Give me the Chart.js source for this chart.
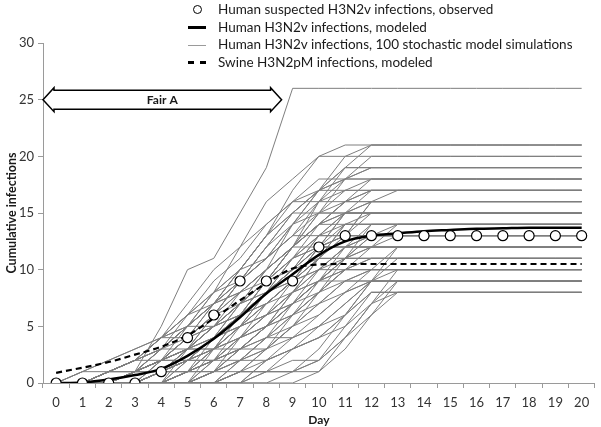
<!DOCTYPE html>
<html>
<head>
<meta charset="utf-8">
<script src="https://cdn.jsdelivr.net/npm/chart.js@4.4.1/dist/chart.umd.min.js"></script>
<style>
  html, body { margin: 0; padding: 0; background: #fff; }
  #wrap { position: relative; width: 601px; height: 427px; }
  #c { position: absolute; left: 0; top: 0; }
  #legend { position: absolute; left: 186px; top: 0; font-family: Lato, "Liberation Sans", sans-serif; font-size: 13.5px; color: #1a1a1a; }
  .row { position: relative; height: 17.5px; line-height: 17.5px; padding-left: 32px; white-space: nowrap; }
  .mk { position: absolute; left: 2px; top: 50%; width: 18px; }
  .mk.circle { left: 7px; width: 7px; height: 7px; margin-top: -5px; border: 1.5px solid #000; border-radius: 50%; background: #fff; }
  .mk.thick { height: 3px; margin-top: -1px; background: #000; }
  .mk.thin { height: 1px; margin-top: 0px; background: #9a9a9a; }
  .mk.dash { height: 0; margin-top: -1px; border-top: 3px dashed #000; }
</style>
</head>
<body>
<div id="wrap">
  <canvas id="c" width="601" height="427"></canvas>
  <div id="legend">
    <div class="row" style="margin-top:1px"><span class="mk circle"></span>Human suspected H3N2v infections, observed</div>
    <div class="row"><span class="mk thick"></span>Human H3N2v infections, modeled</div>
    <div class="row"><span class="mk thin"></span>Human H3N2v infections, 100 stochastic model simulations</div>
    <div class="row"><span class="mk dash"></span>Swine H3N2pM infections, modeled</div>
  </div>
</div>
<script>
const days = ['0','1','2','3','4','5','6','7','8','9','10','11','12','13','14','15','16','17','18','19','20'];
const yTicks = [0, 5, 10, 15, 20, 25, 30];

const observed = [0,0,0,0,1,4,6,9,9,9,12,13,13,13,13,13,13,13,13,13,13];
const humanModeled = [0,0.05,0.3,0.7,1.25,2.4,3.9,5.8,7.9,9.6,11.3,12.5,13.0,13.2,13.4,13.5,13.6,13.65,13.7,13.7,13.7];
const swineModeled = [0.9,1.35,1.85,2.5,3.2,4.2,5.7,7.3,8.8,10.1,10.45,10.5,10.5,10.5,10.5,10.5,10.5,10.5,10.5,10.5,10.5];

const sim01 = [0,0,0,1,5,10,11,15,19,26,26,26,26,26,26,26,26,26,26,26,26];
const sim02 = [0,0,0,1,2,4,7,10,13,17,20,21,21,21,21,21,21,21,21,21,21];
const sim03 = [0,0,1,1,3,5,7,9,12,15,17,19,21,21,21,21,21,21,21,21,21];
const sim04 = [0,0,1,2,4,6,8,12,16,18,20,20,20,20,20,20,20,20,20,20,20];
const sim05 = [0,0,0,1,2,4,6,9,11,14,17,18,19,19,19,19,19,19,19,19,19];
const sim06 = [0,0,0,0,1,3,5,7,10,12,15,17,18,18,18,18,18,18,18,18,18];
const sim07 = [0,0,1,2,3,5,8,10,13,15,17,18,18,18,18,18,18,18,18,18,18];
const sim08 = [0,0,0,0,1,2,4,6,8,10,13,15,16,17,17,17,17,17,17,17,17];
const sim09 = [0,1,2,3,4,6,9,11,14,16,17,17,17,17,17,17,17,17,17,17,17];
const sim10 = [0,0,0,1,1,3,5,8,10,12,14,15,16,16,16,16,16,16,16,16,16];
const sim11 = [0,0,1,2,4,7,10,12,14,16,16,16,16,16,16,16,16,16,16,16,16];
const sim12 = [0,0,0,1,2,3,6,8,10,12,14,15,15,15,15,15,15,15,15,15,15];
const sim13 = [0,0,0,0,2,4,6,9,11,13,15,15,15,15,15,15,15,15,15,15,15];
const sim14 = [0,0,0,0,0,1,3,5,7,9,11,13,15,15,15,15,15,15,15,15,15];
const sim15 = [0,0,0,0,0,0,1,3,5,7,9,11,12,14,14,14,14,14,14,14,14];
const sim16 = [0,0,1,2,3,5,7,8,10,12,14,14,14,14,14,14,14,14,14,14,14];
const sim17 = [0,0,0,1,2,4,5,7,9,11,12,14,14,14,14,14,14,14,14,14,14];
const sim18 = [0,0,0,1,3,4,6,7,9,11,13,13,13,13,13,13,13,13,13,13,13];
const sim19 = [0,0,0,0,1,2,4,6,8,10,12,13,13,13,13,13,13,13,13,13,13];
const sim20 = [0,0,0,0,0,0,2,4,6,7,9,11,13,13,13,13,13,13,13,13,13];
const sim21 = [0,0,1,2,4,5,7,8,10,12,12,12,12,12,12,12,12,12,12,12,12];
const sim22 = [0,0,0,0,1,3,4,5,7,9,10,12,12,12,12,12,12,12,12,12,12];
const sim23 = [0,0,0,0,0,0,0,1,3,5,7,9,10,12,12,12,12,12,12,12,12];
const sim24 = [0,0,0,1,2,3,5,6,8,9,11,11,11,11,11,11,11,11,11,11,11];
const sim25 = [0,0,0,0,0,1,2,4,5,7,8,10,11,11,11,11,11,11,11,11,11];
const sim26 = [0,0,0,0,0,0,0,0,2,4,5,7,9,11,11,11,11,11,11,11,11];
const sim27 = [0,0,1,2,2,3,4,6,7,9,10,10,10,10,10,10,10,10,10,10,10];
const sim28 = [0,0,0,0,0,0,1,2,4,5,7,8,10,10,10,10,10,10,10,10,10];
const sim29 = [0,0,0,0,0,0,0,0,1,2,2,4,7,10,10,10,10,10,10,10,10];
const sim30 = [0,0,0,0,0,0,0,0,1,1,2,4,7,9,9,9,9,9,9,9,9];
const sim31 = [0,0,0,0,1,2,3,4,5,6,8,9,9,9,9,9,9,9,9,9,9];
const sim32 = [0,0,0,0,0,0,0,1,1,1,1,4,6,8,8,8,8,8,8,8,8];
const sim33 = [0,0,0,0,0,1,2,3,4,4,5,6,8,8,8,8,8,8,8,8,8];
const sim34 = [0,0,0,1,3,5,7,10,13,15,17,19,19,19,19,19,19,19,19,19,19];
const sim35 = [0,0,0,0,1,2,4,7,9,12,15,18,20,20,20,20,20,20,20,20,20];
const sim36 = [0,0,1,2,4,6,8,10,11,13,13,13,13,13,13,13,13,13,13,13,13];
const sim37 = [0,0,0,0,1,3,4,6,9,11,14,16,16,16,16,16,16,16,16,16,16];
const sim38 = [0,1,1,2,3,5,7,9,12,15,15,15,15,15,15,15,15,15,15,15,15];
const sim39 = [0,0,0,1,2,3,5,7,9,12,14,16,17,17,17,17,17,17,17,17,17];
const sim40 = [0,0,0,1,2,4,7,10,13,16,18,18,18,18,18,18,18,18,18,18,18];
const sim41 = [0,0,0,0,0,2,3,5,7,9,12,12,12,12,12,12,12,12,12,12,12];
const sim42 = [0,0,0,0,0,1,2,4,6,8,10,12,14,14,14,14,14,14,14,14,14];
const sim43 = [0,0,0,0,0,0,1,3,4,6,8,10,10,10,10,10,10,10,10,10,10];
const sim44 = [0,0,0,0,0,1,1,3,5,7,9,11,11,11,11,11,11,11,11,11,11];
const sim45 = [0,0,0,0,0,0,0,1,2,3,5,7,9,9,9,9,9,9,9,9,9];
const sim46 = [0,0,0,1,1,2,3,3,5,7,10,12,13,13,13,13,13,13,13,13,13];
const sim47 = [0,0,0,0,1,1,2,3,3,5,8,11,14,14,14,14,14,14,14,14,14];
const sim48 = [0,0,1,1,2,3,3,5,6,8,9,9,9,9,9,9,9,9,9,9,9];
const sim49 = [0,0,0,0,0,0,0,0,0,1,2,5,8,8,8,8,8,8,8,8,8];
const sim50 = [0,0,0,0,0,0,1,1,1,1,3,6,9,9,9,9,9,9,9,9,9];
const sim51 = [0,0,1,2,4,4,5,7,8,10,13,15,17,17,17,17,17,17,17,17,17];
const sim52 = [0,1,2,3,4,5,5,6,8,11,13,14,14,14,14,14,14,14,14,14,14];
const sim53 = [0,0,0,0,0,3,5,6,9,12,16,19,19,19,19,19,19,19,19,19,19];
const sim54 = [0,0,0,0,2,3,3,6,8,9,11,13,16,16,16,16,16,16,16,16,16];
const sim55 = [0,0,0,1,1,1,4,5,8,10,12,15,15,15,15,15,15,15,15,15,15];
const sim56 = [0,0,0,0,0,0,0,2,3,6,8,10,12,13,13,13,13,13,13,13,13];
const sim57 = [0,0,0,0,0,2,2,3,5,8,11,11,11,11,11,11,11,11,11,11,11];
const sim58 = [0,0,0,0,1,1,3,6,7,8,9,10,10,10,10,10,10,10,10,10,10];
const sim59 = [0,0,0,0,0,0,0,0,0,0,1,3,6,9,9,9,9,9,9,9,9];
const sim60 = [0,0,0,0,0,0,1,2,2,3,4,6,8,8,8,8,8,8,8,8,8];
const sim61 = [0,0,0,1,2,2,4,7,8,11,12,12,12,12,12,12,12,12,12,12,12];
const sim62 = [0,0,1,1,1,2,4,6,9,12,14,16,18,18,18,18,18,18,18,18,18];
const sim63 = [0,0,0,0,2,5,8,9,11,13,16,17,17,17,17,17,17,17,17,17,17];
const sim64 = [0,0,0,0,0,1,2,5,8,10,11,14,15,15,15,15,15,15,15,15,15];
const sim65 = [0,0,0,0,0,0,3,4,6,9,12,13,13,13,13,13,13,13,13,13,13];
const sim66 = [0,0,0,1,2,2,3,5,6,7,9,10,11,11,11,11,11,11,11,11,11];
const sim67 = [0,0,0,0,0,0,0,1,1,3,4,6,9,12,12,12,12,12,12,12,12];
const sim68 = [0,0,0,0,1,2,2,2,4,6,7,9,10,10,10,10,10,10,10,10,10];
const sim69 = [0,0,0,0,0,0,2,3,5,8,11,14,14,14,14,14,14,14,14,14,14];
const sim70 = [0,0,1,2,3,3,5,7,10,14,17,20,21,21,21,21,21,21,21,21,21];
const sim71 = [0,0,0,0,0,1,1,2,3,5,6,8,9,9,9,9,9,9,9,9,9];
const sim72 = [0,0,0,0,0,0,0,0,2,3,4,5,7,8,8,8,8,8,8,8,8];
const sim73 = [0,0,0,1,2,4,6,8,9,10,12,13,16,16,16,16,16,16,16,16,16];
const sim74 = [0,0,0,0,1,3,6,9,12,14,15,16,17,17,17,17,17,17,17,17,17];
const sim75 = [0,0,0,0,0,0,1,4,7,9,12,15,15,15,15,15,15,15,15,15,15];
const sim76 = [0,0,0,0,0,1,3,4,5,6,9,12,13,14,14,14,14,14,14,14,14];
const sim77 = [0,0,0,0,0,0,0,1,3,4,6,8,9,10,10,10,10,10,10,10,10];
const sim78 = [0,0,0,0,1,2,4,5,6,8,10,11,12,12,12,12,12,12,12,12,12];
const sim79 = [0,0,0,1,3,6,7,9,11,14,16,18,19,19,19,19,19,19,19,19,19];
const sim80 = [0,0,0,0,0,0,0,2,4,7,9,11,13,13,13,13,13,13,13,13,13];

const simulations = [sim01,sim02,sim03,sim04,sim05,sim06,sim07,sim08,sim09,sim10,
  sim11,sim12,sim13,sim14,sim15,sim16,sim17,sim18,sim19,sim20,
  sim21,sim22,sim23,sim24,sim25,sim26,sim27,sim28,sim29,sim30,
  sim31,sim32,sim33,sim34,sim35,sim36,sim37,sim38,sim39,sim40,
  sim41,sim42,sim43,sim44,sim45,sim46,sim47,sim48,sim49,sim50,
  sim51,sim52,sim53,sim54,sim55,sim56,sim57,sim58,sim59,sim60,
  sim61,sim62,sim63,sim64,sim65,sim66,sim67,sim68,sim69,sim70,
  sim71,sim72,sim73,sim74,sim75,sim76,sim77,sim78,sim79,sim80];

const fairLabel = 'Fair A';
const fairStartDay = -0.5;
const fairEndDay = 8.58;
const fairLevel = 25;

const fontFam = 'Lato, "Liberation Sans", sans-serif';

const datasets = [
  { label: 'Human suspected H3N2v infections, observed', data: observed, showLine: false,
    pointRadius: 5, pointBorderWidth: 1.2, pointBackgroundColor: '#fff', pointBorderColor: '#000', borderColor: '#000' },
  { label: 'Human H3N2v infections, modeled', data: humanModeled, borderColor: '#000', borderWidth: 2.5,
    pointRadius: 0, cubicInterpolationMode: 'monotone', fill: false },
  { label: 'Swine H3N2pM infections, modeled', data: swineModeled, borderColor: '#000', borderWidth: 2.2,
    borderDash: [6, 4], pointRadius: 0, cubicInterpolationMode: 'monotone', fill: false },
];
simulations.forEach((s, i) => datasets.push({
  label: 'sim' + (i + 1), data: s, borderColor: '#7e7e7e', borderWidth: 1, pointRadius: 0, tension: 0, fill: false
}));

const fairPlugin = {
  id: 'fairArrow',
  afterDatasetsDraw(chart) {
    const { ctx } = chart;
    const xs = chart.scales.x, ys = chart.scales.y;
    const p0 = xs.getPixelForValue(0), p1 = xs.getPixelForValue(1);
    const step = p1 - p0;
    const x1 = p0 + fairStartDay * step, x2 = p0 + fairEndDay * step;
    const yc = ys.getPixelForValue(fairLevel);
    const bh = 9.5, hh = 12, hl = 11;
    ctx.save();
    ctx.beginPath();
    ctx.moveTo(x1, yc);
    ctx.lineTo(x1 + hl, yc - hh);
    ctx.lineTo(x1 + hl, yc - bh);
    ctx.lineTo(x2 - hl, yc - bh);
    ctx.lineTo(x2 - hl, yc - hh);
    ctx.lineTo(x2, yc);
    ctx.lineTo(x2 - hl, yc + hh);
    ctx.lineTo(x2 - hl, yc + bh);
    ctx.lineTo(x1 + hl, yc + bh);
    ctx.lineTo(x1 + hl, yc + hh);
    ctx.closePath();
    ctx.fillStyle = '#fff';
    ctx.fill();
    ctx.lineWidth = 1.5;
    ctx.strokeStyle = '#000';
    ctx.stroke();
    ctx.fillStyle = '#1a1a1a';
    ctx.font = 'bold 12px ' + fontFam;
    ctx.textAlign = 'center';
    ctx.textBaseline = 'middle';
    ctx.fillText(fairLabel, (x1 + x2) / 2, yc);
    ctx.restore();
  }
};

new Chart(document.getElementById('c'), {
  type: 'line',
  data: { labels: days, datasets },
  options: {
    responsive: false,
    animation: false,
    devicePixelRatio: 1,
    layout: { padding: { top: 43, right: 4, left: 0, bottom: 0 } },
    plugins: { legend: { display: false }, tooltip: { enabled: false } },
    scales: {
      x: {
        type: 'category',
        offset: true,
        grid: { offset: true, drawOnChartArea: false, tickLength: 5, color: '#9a9a9a' },
        border: { color: '#9a9a9a', width: 1 },
        ticks: { font: { family: fontFam, size: 13 }, color: '#333', padding: 7, maxRotation: 0, autoSkip: false },
        title: { display: true, text: 'Day', font: { family: fontFam, size: 12, weight: 'bold' }, color: '#1a1a1a', padding: { top: 0, bottom: 0 } },
        afterFit(s) { s.height = 44; }
      },
      y: {
        min: 0, max: 30,
        afterBuildTicks(s) { s.ticks = yTicks.map(v => ({ value: v })); },
        grid: { drawOnChartArea: false, tickLength: 5, color: '#9a9a9a' },
        border: { color: '#9a9a9a', width: 1 },
        ticks: { font: { family: fontFam, size: 13 }, color: '#333', padding: 4 },
        title: { display: true, text: 'Cumulative infections', font: { family: fontFam, size: 12.5, weight: 'bold' }, color: '#1a1a1a', padding: { top: 4, bottom: 0 } },
        afterFit(s) { s.width = 43; }
      }
    }
  },
  plugins: [fairPlugin]
});
</script>
</body>
</html>
